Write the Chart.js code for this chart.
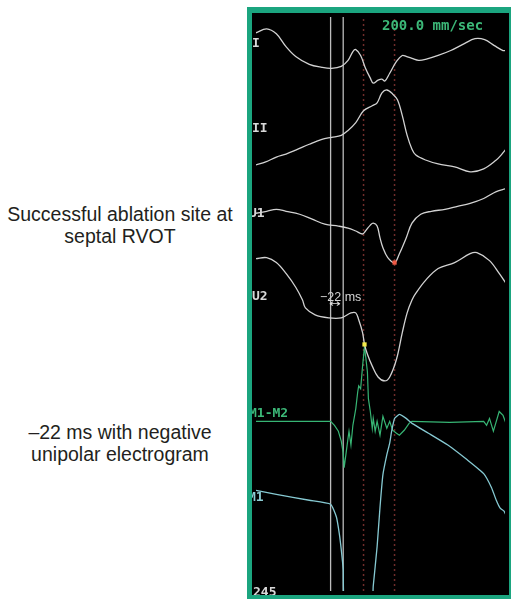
<!DOCTYPE html>
<html lang="en">
<head>
    <meta charset="UTF-8">
    <title>Successful ablation site at septal RVOT</title>
    <script src="https://cdn.jsdelivr.net/npm/chart.js"></script>
    <style>
        html, body { margin: 0; padding: 0; background: #fff; }
        body { width: 511px; height: 599px; position: relative; overflow: hidden; font-family: "Liberation Sans", Arial, sans-serif; }
        .caption { position: absolute; left: 0; width: 240px; text-align: center; color: #231f20; font-size: 19.5px; line-height: 22px; }
        #frame { position: absolute; left: 247px; top: 7px; width: 264px; height: 592px; box-sizing: border-box;
                 border-style: solid; border-color: #1ba57f; border-width: 6px 2px 4px 5px; background: #000; }
        #inner { position: relative; width: 257px; height: 582px; overflow: hidden; }
        #inner canvas { position: absolute; left: 0; top: 0; }
        .lbl { position: absolute; font-family: "DejaVu Sans Mono", monospace; font-weight: bold; font-size: 13px; line-height: 13px; color: #d8d8d8; white-space: nowrap; }
    </style>
</head>
<body>
    <div class="caption" style="top:203px">Successful ablation site at<br>septal RVOT</div>
    <div class="caption" style="top:421px">&ndash;22 ms with negative<br>unipolar electrogram</div>

    <div id="frame">
        <div id="inner">
            <canvas id="egm" width="257" height="582"></canvas>
            <span class="lbl" style="left:0;top:23px">I</span>
            <span class="lbl" style="left:0;top:108px">II</span>
            <span class="lbl" style="left:-3px;top:193px">U1</span>
            <span class="lbl" style="left:0;top:276px">U2</span>
            <span class="lbl" style="left:-3px;top:393px;color:#3cb878">M1-M2</span>
            <span class="lbl" style="left:-4px;top:477px;color:#8ccdd4">M1</span>
            <span class="lbl" style="left:1px;top:572px">245</span>
            <span class="lbl" style="left:130px;top:6px;font-size:14px;color:#3cb878">200.0 mm/sec</span>
            <span style="position:absolute;left:68px;top:277px;font-family:'Liberation Sans',Arial,sans-serif;font-size:12.5px;color:#d4d4d4;white-space:nowrap">&minus;22 ms</span>
            <span style="position:absolute;left:77px;top:285px;font-family:'DejaVu Sans',sans-serif;font-size:10px;color:#e0e0e0;transform:scaleX(1.4);transform-origin:left">&harr;</span>
        </div>
    </div>

    <script>
        // x = sample position along the sweep, y = display amplitude (all channels share one axis)
        const leadI_t = [0, 11, 21, 31, 41, 55, 68, 78, 88, 95, 100, 103, 108, 113, 118, 121, 126, 130, 133, 138, 145, 151, 155, 161, 168, 175, 188, 201, 215, 226, 236, 246, 255, 258];
        const leadI_v = [566, 570, 565, 552, 542, 534, 531, 530, 532, 538, 547, 549, 543, 530, 520, 515, 518, 519, 517, 525, 537, 543, 542, 540, 538, 539, 543, 548, 555, 560, 559, 553, 548, 548];

        const leadII_t = [0, 10, 21, 31, 41, 55, 68, 78, 88, 95, 103, 111, 120, 125, 130, 135, 141, 146, 151, 156, 161, 165, 175, 188, 205, 221, 235, 248, 253, 258];
        const leadII_v = [432, 435, 440, 443, 447, 453, 458, 460, 462, 467, 475, 487, 492, 495, 505, 508, 504, 498, 482, 462, 448, 442, 437, 433, 430, 425, 428, 437, 442, 448];

        const uni1_t = [0, 11, 21, 31, 45, 58, 71, 85, 95, 103, 110, 113, 118, 121, 125, 128, 131, 136, 143, 148, 155, 161, 170, 181, 195, 208, 221, 235, 248, 258];
        const uni1_v = [383, 385, 387, 385, 382, 377, 372, 370, 368, 365, 362, 365, 371, 373, 370, 358, 348, 338, 333, 342, 358, 373, 382, 385, 387, 390, 393, 398, 405, 408];

        const uni2_t = [0, 11, 21, 31, 41, 48, 51, 61, 75, 88, 98, 103, 106, 110, 112, 115, 120, 126, 133, 138, 145, 151, 156, 161, 165, 175, 188, 205, 221, 228, 241, 251, 258];
        const uni2_v = [337, 338, 333, 322, 308, 295, 287, 280, 277, 277, 282, 282, 275, 262, 250, 240, 228, 217, 213, 217, 235, 262, 282, 295, 302, 315, 327, 333, 342, 343, 335, 322, 312];

        const bip_t = [0, 77, 81, 85, 88, 90, 91, 93, 95, 96, 98, 100, 103, 105, 106, 108, 110, 112, 115, 116, 118, 120, 121, 123, 125, 128, 131, 135, 138, 141, 145, 148, 153, 158, 161, 200, 235, 238, 241, 245, 248, 251, 255, 258];
        const bip_v = [172, 172, 168, 162, 152, 140, 125, 140, 155, 162, 148, 168, 185, 202, 208, 205, 228, 248, 222, 195, 182, 165, 175, 162, 172, 158, 177, 165, 172, 163, 160, 158, 163, 170, 172, 171, 172, 168, 175, 162, 172, 182, 178, 170];

        const uniM1_t = [0, 21, 55, 77, 83, 86, 88, 90, 92, 119, 121, 125, 128, 131, 135, 138, 140, 143, 148, 155, 161, 178, 198, 218, 235, 243, 248, 252, 256, 258];
        const uniM1_v = [102, 98, 92, 88, 75, 58, 42, 22, -15, -15, 5, 45, 85, 118, 138, 150, 162, 175, 179, 175, 170, 160, 148, 133, 119, 105, 92, 84, 81, 77];

        const cursorSolid = [77, 90];
        const cursorDotted = [111, 143];
        const markerU1 = [143, 333];
        const markerU2 = [112, 250];

        const pts = (t, v) => t.map((x, i) => ({ x: x, y: v[i] }));
        const vline = x => [{ x: x, y: 0 }, { x: x, y: 582 }];

        // lower "order" is drawn on top
        const trace = (data, color, width, tension, order) => ({
            data: data, borderColor: color, borderWidth: width, tension: tension,
            pointRadius: 0, fill: false, order: order
        });

        const marker = (m, color) => ({
            data: [{ x: m[0], y: m[1] }], showLine: false, order: 0,
            pointStyle: 'rect', pointRadius: 3, pointBorderWidth: 0,
            pointBackgroundColor: color, pointBorderColor: color
        });

        const datasets = [];
        cursorDotted.forEach(x => datasets.push(Object.assign(trace(vline(x), '#6f2c2a', 1.5, 0, 3), { borderDash: [2, 3] })));
        cursorSolid.forEach(x => datasets.push(trace(vline(x), '#bcbcbc', 1.3, 0, 2)));
        datasets.push(trace(pts(leadI_t, leadI_v), '#d2d2d2', 1.3, 0.35, 1));
        datasets.push(trace(pts(leadII_t, leadII_v), '#d2d2d2', 1.3, 0.35, 1));
        datasets.push(trace(pts(uni1_t, uni1_v), '#d2d2d2', 1.3, 0.35, 1));
        datasets.push(trace(pts(uni2_t, uni2_v), '#d2d2d2', 1.3, 0.35, 1));
        datasets.push(trace(pts(uniM1_t, uniM1_v), '#86c9d2', 1.3, 0.15, 1));
        datasets.push(trace(pts(bip_t, bip_v), '#37b574', 1.2, 0, 1));
        datasets.push(marker(markerU1, '#ee5a45'));
        datasets.push(marker(markerU2, '#f4ea4a'));

        new Chart(document.getElementById('egm'), {
            type: 'line',
            data: { datasets: datasets },
            options: {
                responsive: false,
                animation: false,
                devicePixelRatio: 1,
                layout: { padding: 0 },
                plugins: { legend: { display: false }, tooltip: { enabled: false } },
                scales: {
                    x: { type: 'linear', min: 0, max: 257, display: false },
                    y: { type: 'linear', min: 0, max: 582, display: false }
                }
            }
        });
    </script>
</body>
</html>
